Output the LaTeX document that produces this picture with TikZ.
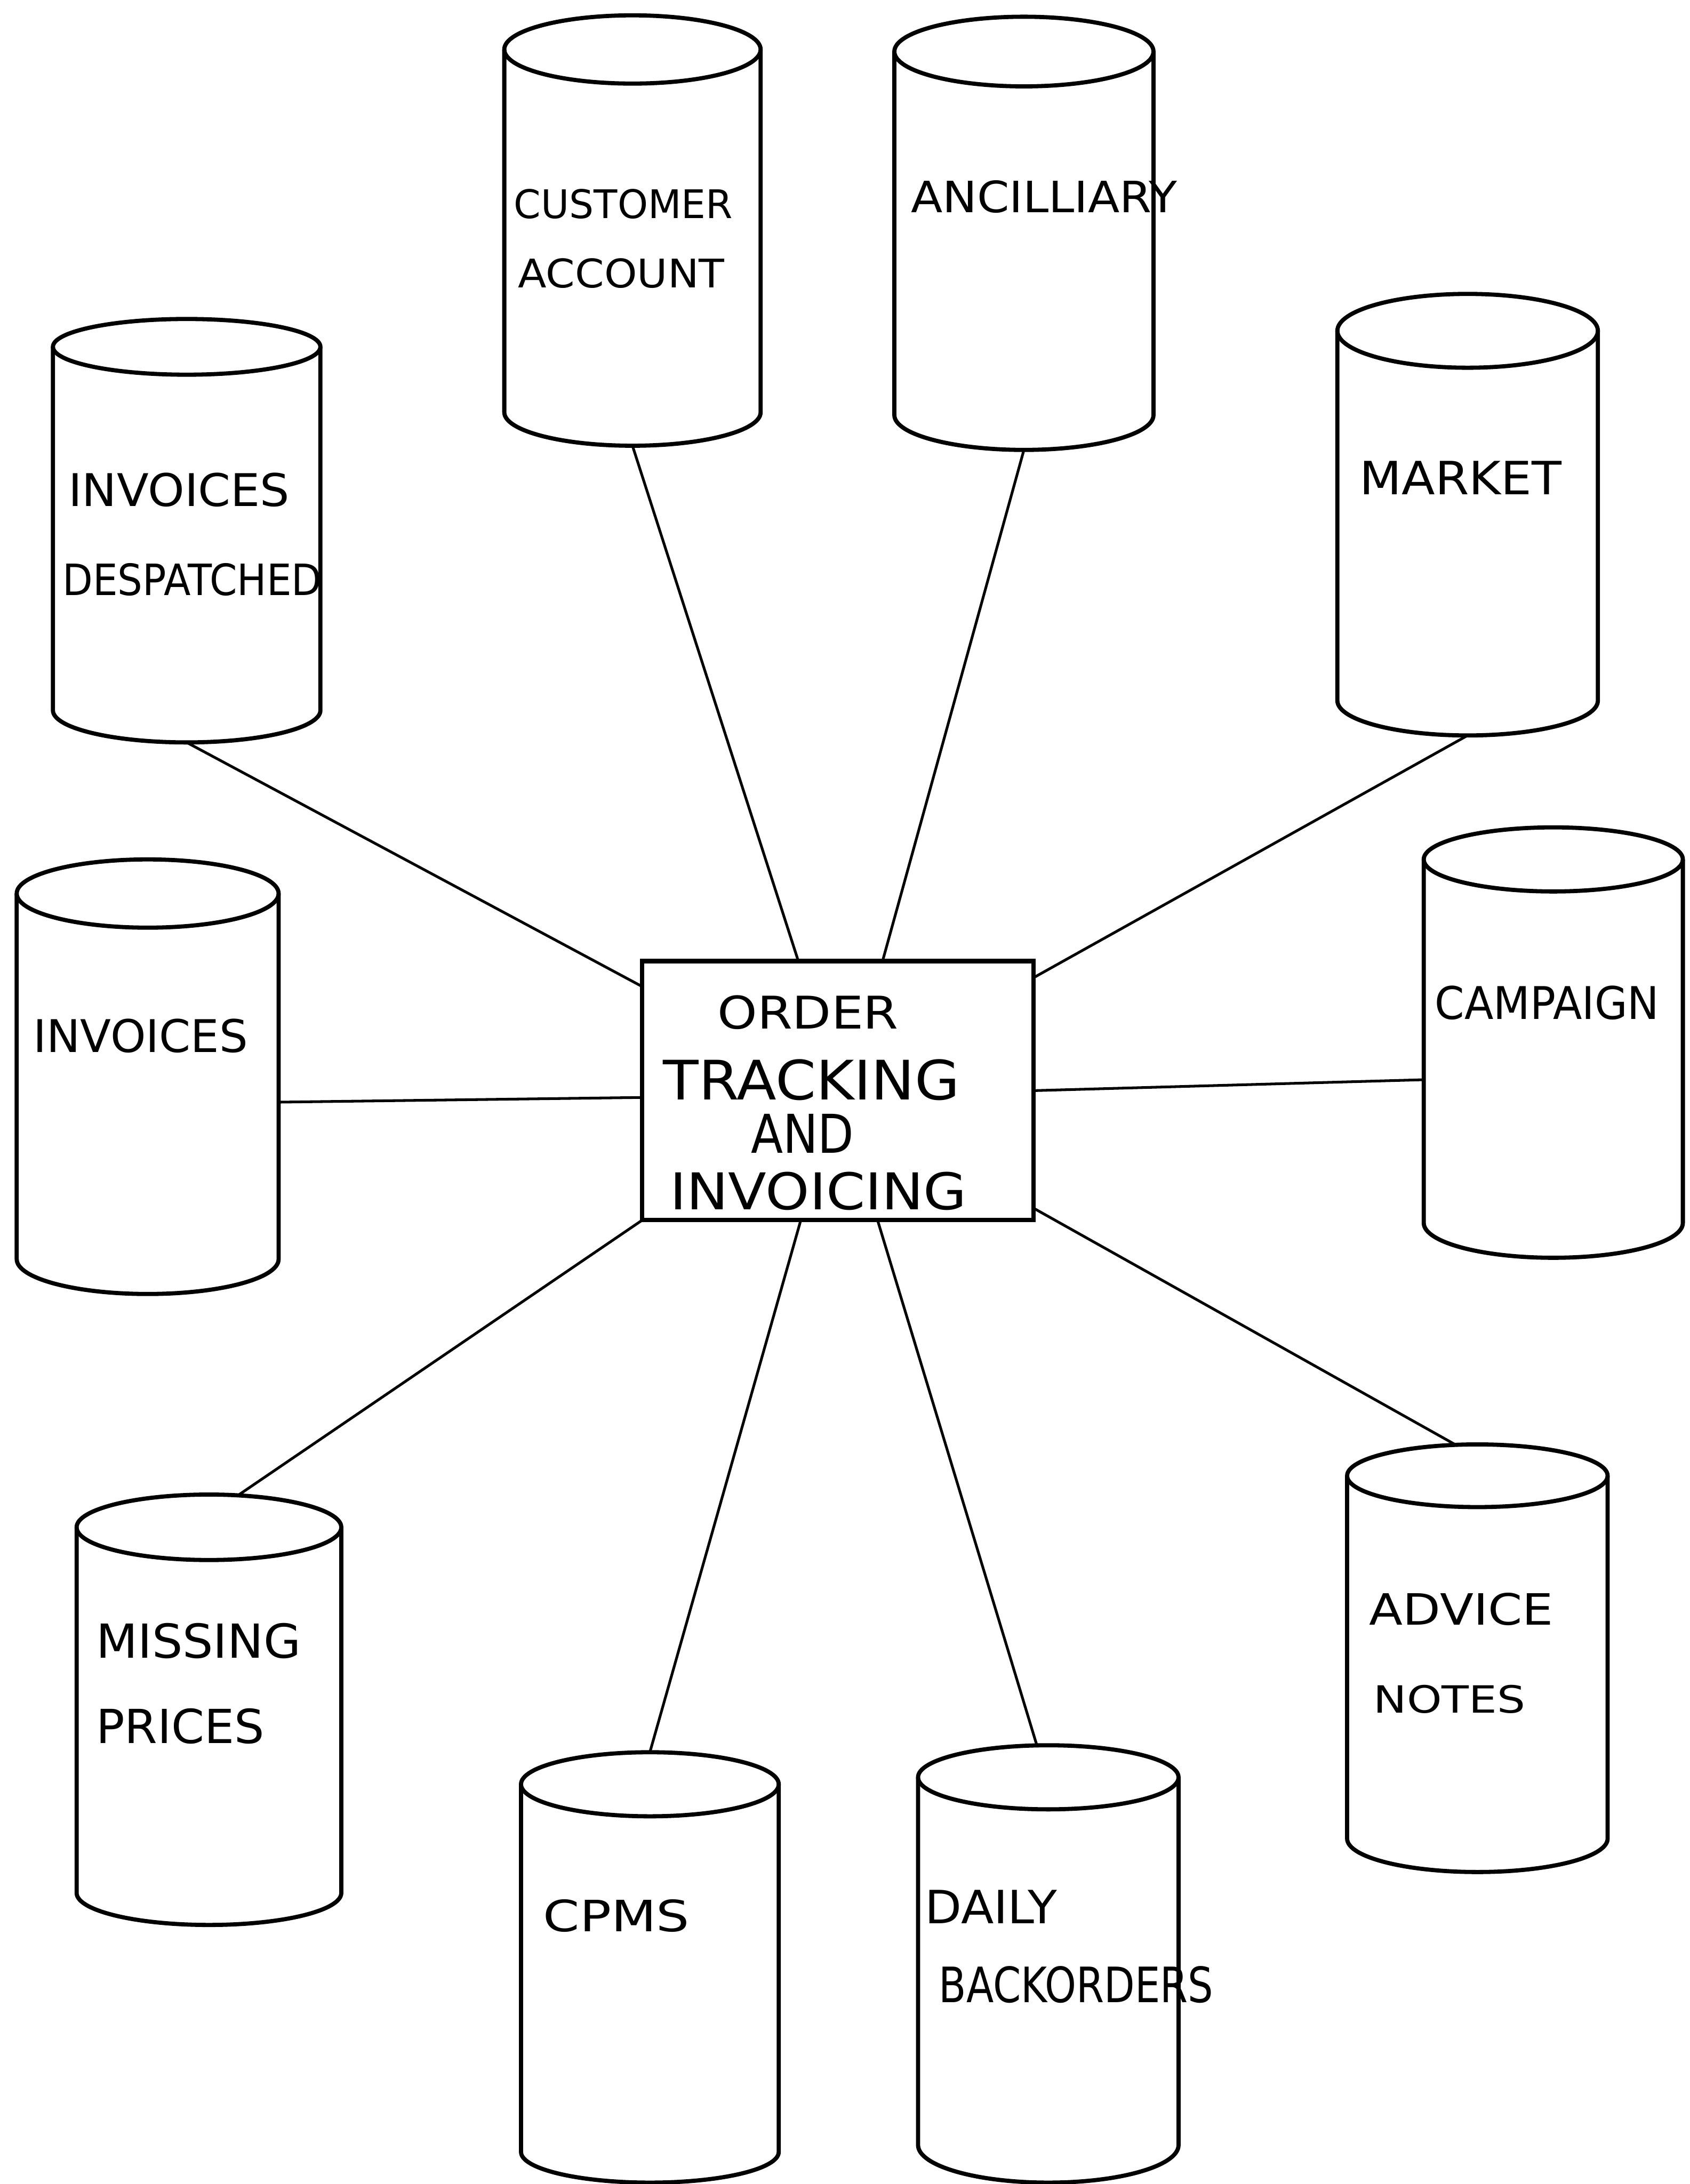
\documentclass[tikz,border=0pt]{standalone}
\usepackage{fontspec}
\setmainfont{DejaVu Sans}
\usepackage{graphicx}
\newcommand{\dbcyl}[7]{%
  \pgfmathsetmacro{\dbCX}{(#2+#3)/2}%
  \pgfmathsetmacro{\dbRX}{(#3-#2)/2}%
  \pgfmathsetmacro{\dbCY}{(#4+#5)/2}%
  \pgfmathsetmacro{\dbRY}{(#5-#4)/2}%
  \pgfmathsetmacro{\dbRB}{#7-#6}%
  \pgfmathsetmacro{\dbMY}{(#4+#7)/2}%
  \pgfmathsetmacro{\dbW}{(#3-#2)*0.1}%
  \pgfmathsetmacro{\dbH}{(#7-#4)*0.1}%
  \node[hold, minimum width=\dbW mm, minimum height=\dbH mm] (#1) at (\dbCX,\dbMY) {};
  \draw[cyl] (\dbCX,\dbCY) ellipse [x radius=\dbRX, y radius=\dbRY];
  \draw[cyl] (#2,\dbCY) -- (#2,#6) arc[start angle=180, end angle=0, x radius=\dbRX, y radius=\dbRB] -- (#3,\dbCY);
}
\newcommand{\hw}[3]{\resizebox{#1mm}{#2mm}{#3}}
\begin{document}
\begin{tikzpicture}[x=0.1mm,y=-0.1mm,
  cyl/.style={line width=0.85pt, line join=round},
  wire/.style={line width=0.55pt},
  lbl/.style={anchor=south west, inner sep=0pt, outer sep=0pt},
  hold/.style={draw=none, inner sep=0pt, outer sep=0pt, rectangle},
  procbox/.style={draw, line width=0.9pt, rectangle, inner sep=0pt, outer sep=0pt,
    minimum width=28.1mm, minimum height=18.6mm}]
\useasboundingbox (0,0) rectangle (1213,1568);
\fill[white] (0,0) rectangle (1213,1568);

% central process box
\node[procbox] (otb) at (601.5,783) {};
\node[lbl] (t-order) at (515,739) {\hw{13.0}{2.4}{ORDER}};
\node[lbl] (t-track) at (476,790) {\hw{21.3}{2.9}{TRACKING}};
\node[lbl] (t-and) at (539,828) {\hw{7.4}{2.8}{AND}};
\node[lbl] (t-invoicing) at (481,869) {\hw{21.3}{2.7}{INVOICING}};

% data stores: name, xl, xr, y back, y front, y side bottom, y bottom
\dbcyl{ca}{362}{546}{11}{60}{296}{320}
\dbcyl{anc}{642}{828}{12}{62}{298}{323}
\dbcyl{idesp}{38}{230}{229}{269}{510}{533}
\dbcyl{mkt}{960}{1147}{211}{264}{503}{528}
\dbcyl{inv}{12}{200}{617}{666}{904}{929}
\dbcyl{camp}{1022}{1208}{594}{640}{878}{903}
\dbcyl{mp}{55}{245}{1073}{1120}{1359}{1382}
\dbcyl{cpms}{374}{559}{1258}{1304}{1545}{1567}
\dbcyl{daily}{659}{846}{1253}{1299}{1540}{1567}
\dbcyl{adv}{967}{1154}{1037}{1082}{1320}{1344}

% labels
\node[lbl] (t-ca1) at (369,157) {\hw{15.7}{2.1}{CUSTOMER}};
\node[lbl] (t-ca2) at (372,207) {\hw{14.8}{2.1}{ACCOUNT}};
\node[lbl] (t-anc) at (654,153) {\hw{19.1}{2.3}{ANCILLIARY}};
\node[lbl] (t-id1) at (49,364) {\hw{15.9}{2.4}{INVOICES}};
\node[lbl] (t-id2) at (45,428) {\hw{18.6}{2.3}{DESPATCHED}};
\node[lbl] (t-mkt) at (976,355) {\hw{14.5}{2.4}{MARKET}};
\node[lbl] (t-inv) at (24,756) {\hw{15.4}{2.4}{INVOICES}};
\node[lbl] (t-camp) at (1030,732) {\hw{16.1}{2.4}{CAMPAIGN}};
\node[lbl] (t-mp1) at (69,1191) {\hw{14.7}{2.5}{MISSING}};
\node[lbl] (t-mp2) at (69,1252) {\hw{12.1}{2.5}{PRICES}};
\node[lbl] (t-cpms) at (390,1387) {\hw{10.5}{2.3}{CPMS}};
\node[lbl] (t-daily1) at (664,1381) {\hw{9.5}{2.4}{DAILY}};
\node[lbl] (t-daily2) at (674,1438) {\hw{19.7}{2.6}{BACKORDERS}};
\node[lbl] (t-adv1) at (983,1167) {\hw{13.2}{2.3}{ADVICE}};
\node[lbl] (t-adv2) at (986,1230) {\hw{10.9}{2.0}{NOTES}};

% connectors
\draw[wire] (ca.south) -- (otb.107);
\draw[wire] (anc.south) -- (otb.71);
\draw[wire] (idesp.south) -- (otb.152);
\draw[wire] (mkt.south) -- (otb.30);
\draw[wire] (inv.349) -- (otb.182);
\draw[wire] (camp.196) -- (otb.0);
\draw[wire] (mp.82) -- (otb.south west);
\draw[wire] (cpms.north) -- (otb.254);
\draw[wire] (daily.93) -- (otb.287);
\draw[wire] (adv.96) -- (otb.329);
\end{tikzpicture}
\end{document}
